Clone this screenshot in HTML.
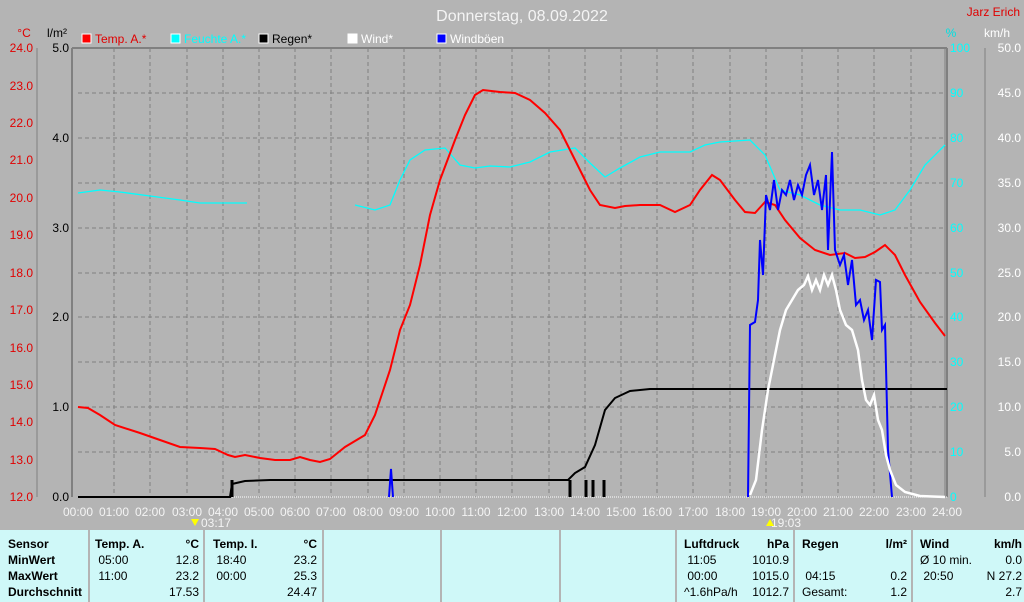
<!DOCTYPE html><html><head><style>
body{margin:0;background:#b4b4b4;font-family:"Liberation Sans",sans-serif;}
.t{position:absolute;top:530px;height:72px;background:#cff8f8;}
.tb{position:absolute;font-size:12px;line-height:16px;}
</style></head><body>
<div style="position:relative;width:1024px;height:602px;overflow:hidden">
<svg width="1024" height="602" style="position:absolute;left:0;top:0" font-family="Liberation Sans, sans-serif" font-size="12">
<text x="522" y="21" fill="#f4f4f4" font-size="16" text-anchor="middle">Donnerstag, 08.09.2022</text>
<text x="1020" y="16" fill="#e00000" text-anchor="end">Jarz Erich</text>
<text x="24" y="37" fill="#e00000" text-anchor="middle">°C</text>
<text x="57" y="37" fill="#000" text-anchor="middle">l/m²</text>
<text x="951" y="37" fill="#00e0e0" text-anchor="middle">%</text>
<text x="997" y="37" fill="#fff" text-anchor="middle">km/h</text>
<rect x="82" y="34" width="9" height="9" fill="#f00" stroke="#fff"/><text x="95" y="43" fill="#e00000">Temp. A.*</text>
<rect x="171" y="34" width="9" height="9" fill="#0ff" stroke="#fff"/><text x="184" y="43" fill="#00ffff">Feuchte A.*</text>
<rect x="259" y="34" width="9" height="9" fill="#000" stroke="#fff"/><text x="272" y="43" fill="#000">Regen*</text>
<rect x="348" y="34" width="9" height="9" fill="#fff" stroke="#fff"/><text x="361" y="43" fill="#fff">Wind*</text>
<rect x="437" y="34" width="9" height="9" fill="#00f" stroke="#fff"/><text x="450" y="43" fill="#fff">Windböen</text>
<g stroke="#808080" stroke-dasharray="4,3" stroke-width="1">
<line x1="114" y1="48" x2="114" y2="497"/><line x1="150" y1="48" x2="150" y2="497"/><line x1="187" y1="48" x2="187" y2="497"/><line x1="223" y1="48" x2="223" y2="497"/><line x1="259" y1="48" x2="259" y2="497"/><line x1="295" y1="48" x2="295" y2="497"/><line x1="331" y1="48" x2="331" y2="497"/><line x1="368" y1="48" x2="368" y2="497"/><line x1="404" y1="48" x2="404" y2="497"/><line x1="440" y1="48" x2="440" y2="497"/><line x1="476" y1="48" x2="476" y2="497"/><line x1="512" y1="48" x2="512" y2="497"/><line x1="549" y1="48" x2="549" y2="497"/><line x1="585" y1="48" x2="585" y2="497"/><line x1="621" y1="48" x2="621" y2="497"/><line x1="657" y1="48" x2="657" y2="497"/><line x1="693" y1="48" x2="693" y2="497"/><line x1="730" y1="48" x2="730" y2="497"/><line x1="766" y1="48" x2="766" y2="497"/><line x1="802" y1="48" x2="802" y2="497"/><line x1="838" y1="48" x2="838" y2="497"/><line x1="874" y1="48" x2="874" y2="497"/><line x1="911" y1="48" x2="911" y2="497"/>
<line x1="78" y1="93" x2="947" y2="93"/><line x1="78" y1="138" x2="947" y2="138"/><line x1="78" y1="183" x2="947" y2="183"/><line x1="78" y1="228" x2="947" y2="228"/><line x1="78" y1="273" x2="947" y2="273"/><line x1="78" y1="317" x2="947" y2="317"/><line x1="78" y1="362" x2="947" y2="362"/><line x1="78" y1="407" x2="947" y2="407"/><line x1="78" y1="452" x2="947" y2="452"/>
</g>
<line x1="72" y1="48" x2="947" y2="48" stroke="#808080" stroke-width="2"/>
<line x1="72" y1="48" x2="72" y2="497" stroke="#808080" stroke-width="2"/>
<line x1="945" y1="48" x2="945" y2="497" stroke="#808080"/><line x1="947" y1="48" x2="947" y2="497" stroke="#808080" stroke-width="2"/>
<line x1="37" y1="48" x2="37" y2="497" stroke="#808080"/>
<line x1="985" y1="48" x2="985" y2="497" stroke="#808080"/>
<g fill="#e00000" font-size="12" text-anchor="end">
<text x="33" y="52">24.0</text><text x="33" y="90">23.0</text><text x="33" y="127">22.0</text><text x="33" y="164">21.0</text><text x="33" y="202">20.0</text><text x="33" y="239">19.0</text><text x="33" y="277">18.0</text><text x="33" y="314">17.0</text><text x="33" y="352">16.0</text><text x="33" y="389">15.0</text><text x="33" y="426">14.0</text><text x="33" y="464">13.0</text><text x="33" y="501">12.0</text></g>
<g fill="#000" text-anchor="end"><text x="69" y="52">5.0</text><text x="69" y="142">4.0</text><text x="69" y="232">3.0</text><text x="69" y="321">2.0</text><text x="69" y="411">1.0</text><text x="69" y="501">0.0</text></g>
<g fill="#00ffff" text-anchor="start"><text x="950" y="52">100</text><text x="950" y="97">90</text><text x="950" y="142">80</text><text x="950" y="187">70</text><text x="950" y="232">60</text><text x="950" y="277">50</text><text x="950" y="321">40</text><text x="950" y="366">30</text><text x="950" y="411">20</text><text x="950" y="456">10</text><text x="950" y="501">0</text></g>
<g fill="#fff" text-anchor="end"><text x="1021" y="52">50.0</text><text x="1021" y="97">45.0</text><text x="1021" y="142">40.0</text><text x="1021" y="187">35.0</text><text x="1021" y="232">30.0</text><text x="1021" y="277">25.0</text><text x="1021" y="321">20.0</text><text x="1021" y="366">15.0</text><text x="1021" y="411">10.0</text><text x="1021" y="456">5.0</text><text x="1021" y="501">0.0</text></g>
<g fill="#f4f4f4" text-anchor="middle" font-size="12"><text x="78" y="516">00:00</text><text x="114" y="516">01:00</text><text x="150" y="516">02:00</text><text x="187" y="516">03:00</text><text x="223" y="516">04:00</text><text x="259" y="516">05:00</text><text x="295" y="516">06:00</text><text x="331" y="516">07:00</text><text x="368" y="516">08:00</text><text x="404" y="516">09:00</text><text x="440" y="516">10:00</text><text x="476" y="516">11:00</text><text x="512" y="516">12:00</text><text x="549" y="516">13:00</text><text x="585" y="516">14:00</text><text x="621" y="516">15:00</text><text x="657" y="516">16:00</text><text x="693" y="516">17:00</text><text x="730" y="516">18:00</text><text x="766" y="516">19:00</text><text x="802" y="516">20:00</text><text x="838" y="516">21:00</text><text x="874" y="516">22:00</text><text x="911" y="516">23:00</text><text x="947" y="516">24:00</text>
<text x="216" y="527">03:17</text><text x="786" y="527">19:03</text></g>
<polygon points="191,519 199,519 195,526" fill="#ff0"/><polygon points="766,526 774,526 770,519" fill="#ff0"/>
<line x1="78" y1="497" x2="947" y2="497" stroke="#fff" stroke-dasharray="1,1"/>
<polyline fill="none" stroke="#00ffff" stroke-width="1.3" points="78,193 100,190 120,192 150,196 180,200 200,203 247,203"/>
<polyline fill="none" stroke="#00ffff" stroke-width="1.3" points="355,205 375,210 390,205 400,180 410,160 425,150 445,148 460,165 475,168 490,166 510,167 530,162 550,152 575,148 590,163 605,177 620,168 640,157 660,152 690,152 705,145 720,142 750,140 765,155 780,190 800,195 820,205 840,210 860,210 880,215 895,210 910,190 925,165 945,145"/>
<polyline fill="none" stroke="#000" stroke-width="2" points="78,497 230,497 232,484 245,481 270,480 568,480 575,473 585,467 595,445 605,410 615,398 630,391 650,389 947,389"/>
<g stroke="#000" stroke-width="3"><line x1="232" y1="480" x2="232" y2="497"/><line x1="570" y1="480" x2="570" y2="497"/><line x1="586" y1="480" x2="586" y2="497"/><line x1="593" y1="480" x2="593" y2="497"/><line x1="604" y1="480" x2="604" y2="497"/></g>
<polyline fill="none" stroke="#00f" stroke-width="2" points="389,497 391,469 393,497"/>
<polyline fill="none" stroke="#f00" stroke-width="2" points="78,407 88,408 100,415 115,425 140,433 160,440 180,447 200,448 215,449 228,455 235,457 245,455 260,458 275,460 290,460 300,457 310,460 320,462 330,459 345,447 365,435 375,415 390,370 400,330 410,305 420,265 430,215 440,180 455,140 465,115 475,95 483,90 500,92 515,93 530,100 545,113 560,130 575,160 590,190 600,205 615,208 625,206 640,205 660,205 675,212 690,205 700,190 712,175 720,180 735,200 745,212 755,213 765,202 775,205 785,220 800,238 815,250 830,255 845,253 855,258 865,257 875,252 885,245 895,255 905,275 920,302 935,323 945,336"/>
<polyline fill="none" stroke="#00f" stroke-width="2" points="748,497 750,325 755,322 758,300 760,240 763,275 766,195 770,210 774,180 778,210 782,190 786,195 790,180 794,200 798,185 802,195 806,175 810,165 814,195 818,180 822,210 826,175 828,250 832,152 835,250 840,265 844,255 848,285 852,260 856,305 860,300 864,320 868,310 872,340 876,280 880,282 882,330 885,325 888,450 892,497"/>
<polyline fill="none" stroke="#fff" stroke-width="2.5" points="750,495 756,480 762,430 768,390 774,360 780,330 786,310 792,300 798,290 804,285 808,276 812,290 816,280 820,290 824,275 828,285 832,275 836,290 840,310 846,325 852,330 858,350 862,380 866,400 870,405 874,395 878,420 882,430 886,455 890,470 896,485 905,492 920,496 945,497"/>
</svg>
<div class="t" style="left:0;width:88px"></div>
<div class="t" style="left:90px;width:113px"></div>
<div class="t" style="left:205px;width:117px"></div>
<div class="t" style="left:324px;width:116px"></div>
<div class="t" style="left:442px;width:117px"></div>
<div class="t" style="left:561px;width:114px"></div>
<div class="t" style="left:677px;width:116px"></div>
<div class="t" style="left:795px;width:116px"></div>
<div class="t" style="left:913px;width:111px"></div>
<div class="tb" style="left:8px;top:536px;font-weight:bold">Sensor<br>MinWert<br>MaxWert<br>Durchschnitt</div>
<div class="tb" style="left:95px;top:536px;width:104px"><b>Temp. A.</b><b style="float:right">°C</b><br>&nbsp;05:00<span style="float:right">12.8</span><br>&nbsp;11:00<span style="float:right">23.2</span><br><span style="float:right">17.53</span></div>
<div class="tb" style="left:213px;top:536px;width:104px"><b>Temp. I.</b><b style="float:right">°C</b><br>&nbsp;18:40<span style="float:right">23.2</span><br>&nbsp;00:00<span style="float:right">25.3</span><br><span style="float:right">24.47</span></div>
<div class="tb" style="left:684px;top:536px;width:105px"><b>Luftdruck</b><b style="float:right">hPa</b><br>&nbsp;11:05<span style="float:right">1010.9</span><br>&nbsp;00:00<span style="float:right">1015.0</span><br>^1.6hPa/h<span style="float:right">1012.7</span></div>
<div class="tb" style="left:802px;top:536px;width:105px"><b>Regen</b><b style="float:right">l/m²</b><br>&nbsp;<br>&nbsp;04:15<span style="float:right">0.2</span><br>Gesamt:<span style="float:right">1.2</span></div>
<div class="tb" style="left:920px;top:536px;width:102px"><b>Wind</b><b style="float:right">km/h</b><br>Ø 10 min.<span style="float:right">0.0</span><br>&nbsp;20:50<span style="float:right">N 27.2</span><br><span style="float:right">2.7</span></div>
</div></body></html>
